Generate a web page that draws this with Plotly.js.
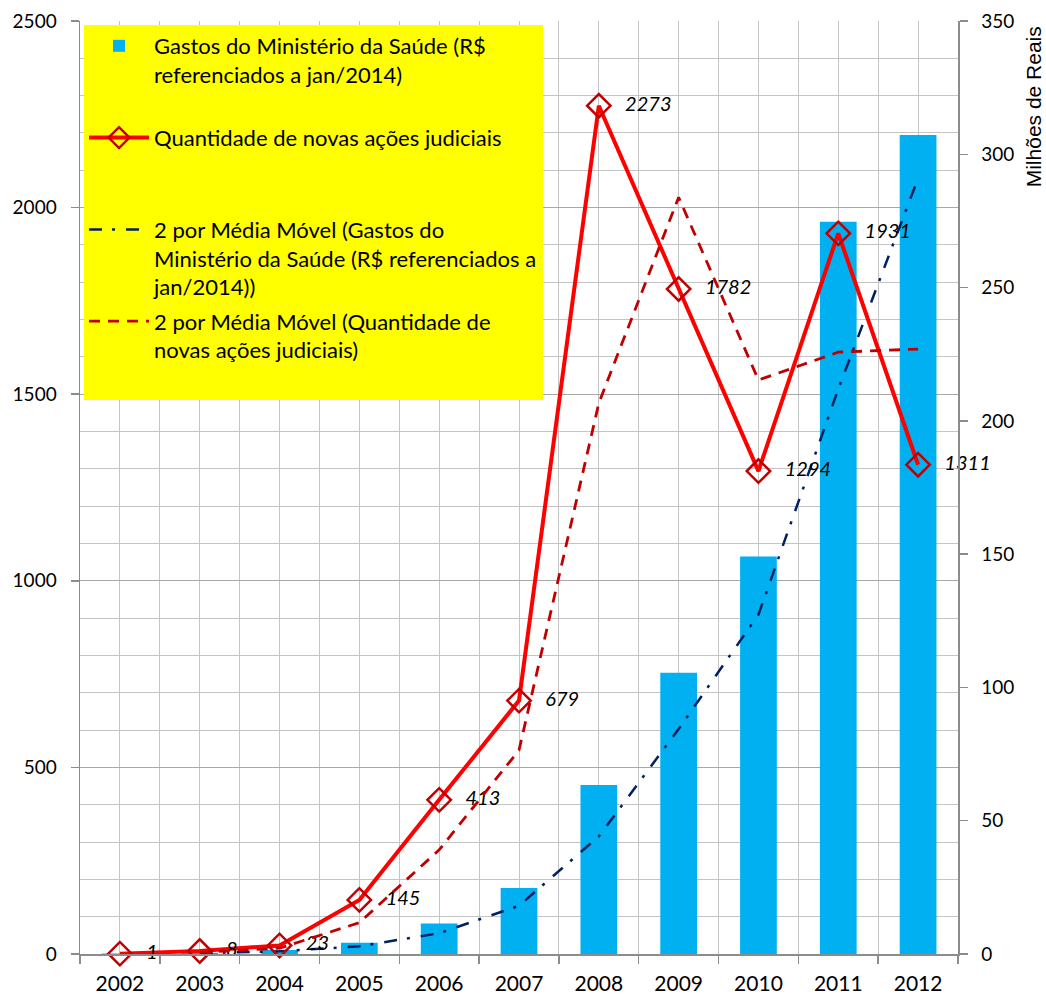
<!DOCTYPE html>
<html>
<head>
<meta charset="utf-8">
<script src="https://cdn.plot.ly/plotly-3.0.1.min.js"></script>
<style>html,body{margin:0;padding:0;background:#fff;}#chart{width:1046px;height:996px;}</style>
</head>
<body>
<div id="chart"></div>
<script>
// ---- data ----
var years = [2002, 2003, 2004, 2005, 2006, 2007, 2008, 2009, 2010, 2011, 2012];
var gastos = [0.2, 0.5, 1.5, 4.2, 11.4, 24.8, 63.4, 105.5, 149.1, 274.7, 307.2];        // milhões de reais (eixo direito)
var acoes = [1, 8, 23, 145, 413, 679, 2273, 1782, 1294, 1931, 1311];                     // novas ações judiciais (eixo esquerdo)
var mmYears = [2003, 2004, 2005, 2006, 2007, 2008, 2009, 2010, 2011, 2012];
var mmGastos = [0.3, 1.0, 2.9, 7.8, 18.1, 44.1, 84.4, 127.3, 211.9, 291.0];
var mmAcoes = [4.5, 15.5, 84, 279, 546, 1476, 2027.5, 1538, 1612.5, 1621];
var acoesLabels = ['1', '8', '23', '145', '413', '679', '2273', '1782', '1294', '1931', '1311'];
var boundaries = [2001.5, 2002.5, 2003.5, 2004.5, 2005.5, 2006.5, 2007.5, 2008.5, 2009.5, 2010.5, 2011.5, 2012.5];
var names = [
  'Gastos do Ministério da Saúde (R$<br>referenciados a jan/2014)<br>\u00a0',
  'Quantidade de novas ações judiciais<br>\u00a0<br>\u00a0',
  '2 por Média Móvel (Gastos do<br>Ministério da Saúde (R$ referenciados a<br>jan/2014))',
  '2 por Média Móvel (Quantidade de<br>novas ações judiciais)<br>\u00a0'
];

var FONT = 'Lato, "Open Sans", sans-serif';
var GRID = '#c4c4c4';
var AXIS = '#8c8c8c';
var PAD = '\u00a0\u00a0\u00a0';

var traces = [
  {
    type: 'bar', name: names[0], x: years, y: gastos, yaxis: 'y', xaxis: 'x',
    width: 0.46, marker: {color: '#00b0f0'}, legendgroup: 'a', hoverinfo: 'x+y'
  },
  {
    type: 'scatter', mode: 'lines+markers+text', name: names[1], x: years, y: acoes, yaxis: 'y2',
    line: {color: '#ff0000', width: 4},
    marker: {symbol: 'diamond-open', size: 18, color: '#c00000', line: {color: '#c00000', width: 2.5}},
    text: acoesLabels.map(function (s) { return PAD + s; }), textposition: 'middle right',
    textfont: {family: FONT, size: 20, color: '#000', style: 'italic'},
    cliponaxis: false, legendgroup: 'b'
  },
  {
    type: 'scatter', mode: 'lines', name: names[2], x: mmYears, y: mmGastos, yaxis: 'y',
    line: {color: '#002060', width: 2.5, dash: '13px,10px,3px,11px'}, legendgroup: 'c'
  },
  {
    type: 'scatter', mode: 'lines', name: names[3], x: mmYears, y: mmAcoes, yaxis: 'y2',
    line: {color: '#c00000', width: 2.8, dash: '11px,8px'}, legendgroup: 'd'
  }
];

var layout = {
  width: 1046, height: 996,
  margin: {l: 80, r: 88, t: 21, b: 42, pad: 0},
  paper_bgcolor: '#ffffff', plot_bgcolor: '#ffffff',
  font: {family: FONT, color: '#000'},
  showlegend: true,
  legend: {
    x: 0.0046, y: 0.9957, xanchor: 'left', yanchor: 'top',
    bgcolor: '#ffff00', borderwidth: 0,
    font: {family: FONT, size: 22, color: '#000'},
    itemwidth: 60, valign: 'top', traceorder: 'grouped', tracegroupgap: 3
  },
  xaxis: {
    range: [2001.5, 2012.5], tickmode: 'array', tickvals: years, ticktext: years.map(String),
    showgrid: true, gridcolor: GRID, gridwidth: 1,
    showline: true, linecolor: AXIS, linewidth: 1.5, zeroline: false,
    ticks: '', ticklabelstandoff: 10,
    tickfont: {family: FONT, size: 21, color: '#000'},
    minor: {tickmode: 'array', tickvals: boundaries, showgrid: true, gridcolor: GRID, gridwidth: 1,
            ticks: 'outside', ticklen: 8, tickcolor: AXIS, tickwidth: 1.5}
  },
  yaxis: {
    side: 'right', range: [0, 350], tickmode: 'linear', tick0: 0, dtick: 50,
    showgrid: false, zeroline: false,
    showline: true, linecolor: AXIS, linewidth: 1.5,
    ticks: 'outside', ticklen: 8, tickcolor: AXIS, tickwidth: 1.5, ticklabelstandoff: 10,
    tickfont: {family: FONT, size: 19, color: '#000'}
  },
  yaxis2: {
    overlaying: 'y', side: 'left', range: [0, 2500], tickmode: 'linear', tick0: 0, dtick: 500,
    showgrid: true, gridcolor: '#a8a8a8', gridwidth: 1, zeroline: false,
    showline: true, linecolor: AXIS, linewidth: 1.5,
    ticks: 'outside', ticklen: 8, tickcolor: AXIS, tickwidth: 1.5, ticklabelstandoff: 10,
    tickfont: {family: FONT, size: 19, color: '#000'},
    minor: {tick0: 0, dtick: 100, showgrid: true, gridcolor: GRID, gridwidth: 1, ticks: ''}
  },
  annotations: [{
    text: 'Milhões de Reais', textangle: -90, xref: 'paper', yref: 'paper',
    x: 1.0855, y: 0.996, xanchor: 'center', yanchor: 'top', showarrow: false,
    font: {family: '"Liberation Sans Narrow", "Liberation Sans", sans-serif', size: 21, color: '#000'}
  }]
};

Plotly.newPlot('chart', traces, layout, {displayModeBar: false, staticPlot: true});
</script>
</body>
</html>
